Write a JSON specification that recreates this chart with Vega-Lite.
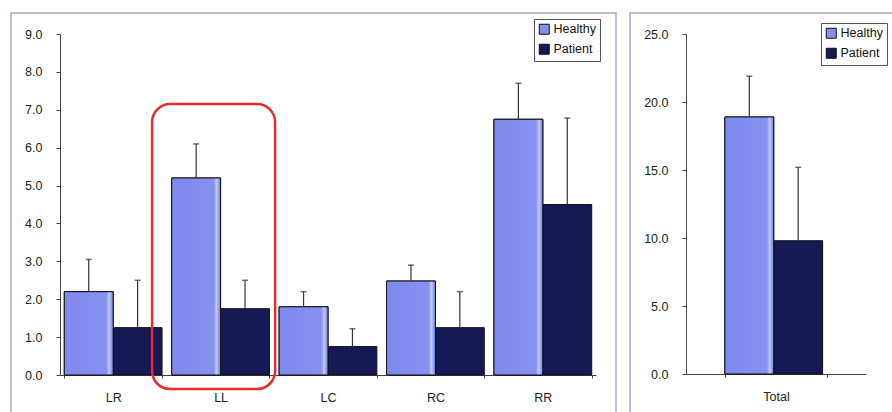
{
  "$schema": "https://vega.github.io/schema/vega-lite/v6.json",
  "padding": {"left": 10, "top": 12, "right": 0, "bottom": 0},
  "background": "white",
  "spacing": 12,
  "datasets": {
    "regions": [
      {"region": "LR", "group": "Healthy", "mean": 2.2, "upper": 3.05},
      {"region": "LR", "group": "Patient", "mean": 1.25, "upper": 2.5},
      {"region": "LL", "group": "Healthy", "mean": 5.2, "upper": 6.1},
      {"region": "LL", "group": "Patient", "mean": 1.75, "upper": 2.5},
      {"region": "LC", "group": "Healthy", "mean": 1.8, "upper": 2.2},
      {"region": "LC", "group": "Patient", "mean": 0.75, "upper": 1.22},
      {"region": "RC", "group": "Healthy", "mean": 2.48, "upper": 2.9},
      {"region": "RC", "group": "Patient", "mean": 1.25, "upper": 2.2},
      {"region": "RR", "group": "Healthy", "mean": 6.75, "upper": 7.7},
      {"region": "RR", "group": "Patient", "mean": 4.5, "upper": 6.78}
    ],
    "highlight": [
      {"region": "LL", "top": 7.15, "bottom": -0.37}
    ],
    "total": [
      {"region": "Total", "group": "Healthy", "mean": 18.9, "upper": 21.9},
      {"region": "Total", "group": "Patient", "mean": 9.8, "upper": 15.2}
    ]
  },
  "config": {
    "font": "Liberation Sans",
    "view": {"stroke": "#a9abc9", "strokeWidth": 1.5},
    "axis": {
      "grid": false,
      "title": null,
      "domainColor": "#444",
      "tickColor": "#444",
      "labelColor": "#222",
      "labelFontSize": 12.5,
      "labelFont": "Liberation Sans"
    },
    "legend": {
      "orient": "none",
      "title": null,
      "strokeColor": "#555",
      "padding": 4,
      "rowPadding": 5,
      "symbolType": "square",
      "symbolSize": 100,
      "symbolStrokeColor": "#111",
      "symbolStrokeWidth": 1,
      "labelFontSize": 12.5,
      "labelColor": "#111",
      "labelOffset": 3
    }
  },
  "resolve": {"legend": {"color": "independent"}},
  "hconcat": [
    {
      "width": 605,
      "height": 420,
      "layer": [
        {
          "data": {"name": "regions"},
          "mark": {"type": "bar", "stroke": "#111", "strokeWidth": 1},
          "encoding": {
            "x": {
              "field": "region",
              "type": "nominal",
              "sort": ["LR", "LL", "LC", "RC", "RR"],
              "scale": {"range": [49, 585], "paddingInner": 0.09, "paddingOuter": 0.04},
              "axis": {"offset": -58, "labelAngle": 0, "labelPadding": 13, "tickBand": "extent", "tickSize": 3}
            },
            "xOffset": {"field": "group", "type": "nominal", "sort": ["Healthy", "Patient"]},
            "y": {
              "field": "mean",
              "type": "quantitative",
              "scale": {"domain": [0, 9], "range": [362, 21], "nice": false},
              "axis": {"offset": -49, "values": [0, 1, 2, 3, 4, 5, 6, 7, 8, 9], "format": ".1f", "tickSize": 4, "labelPadding": 14}
            },
            "color": {
              "field": "group",
              "type": "nominal",
              "scale": {"domain": ["Healthy", "Patient"], "range": ["#8290ee", "#151a55"]},
              "legend": {"legendX": 523, "legendY": 6}
            }
          }
        },
        {
          "data": {"name": "regions"},
          "transform": [{"filter": "datum.group === 'Healthy'"}],
          "mark": {
            "type": "bar",
            "stroke": "#111",
            "strokeWidth": 1,
            "fill": {
              "gradient": "linear", "x1": 0, "x2": 1, "y1": 0, "y2": 0,
              "stops": [
                {"offset": 0, "color": "#7d8aed"},
                {"offset": 0.86, "color": "#8592f0"},
                {"offset": 0.92, "color": "#c4cbf7"},
                {"offset": 0.97, "color": "#8795f0"},
                {"offset": 1, "color": "#7d8aed"}
              ]
            }
          },
          "encoding": {
            "x": {"field": "region", "type": "nominal", "sort": ["LR", "LL", "LC", "RC", "RR"]},
            "xOffset": {"field": "group", "type": "nominal", "sort": ["Healthy", "Patient"], "scale": {"domain": ["Healthy", "Patient"]}},
            "y": {"field": "mean", "type": "quantitative"}
          }
        },
        {
          "data": {"name": "regions"},
          "mark": {"type": "rule", "color": "#333", "strokeWidth": 1.2},
          "encoding": {
            "x": {"field": "region", "type": "nominal", "sort": ["LR", "LL", "LC", "RC", "RR"]},
            "xOffset": {"field": "group", "type": "nominal", "sort": ["Healthy", "Patient"]},
            "y": {"field": "mean", "type": "quantitative"},
            "y2": {"field": "upper"}
          }
        },
        {
          "data": {"name": "regions"},
          "mark": {"type": "tick", "color": "#333", "size": 6, "thickness": 1.5, "orient": "horizontal"},
          "encoding": {
            "x": {"field": "region", "type": "nominal", "sort": ["LR", "LL", "LC", "RC", "RR"]},
            "xOffset": {"field": "group", "type": "nominal", "sort": ["Healthy", "Patient"]},
            "y": {"field": "upper", "type": "quantitative"}
          }
        },
        {
          "data": {"name": "highlight"},
          "mark": {"type": "bar", "width": 123, "xOffset": -7, "fillOpacity": 0, "stroke": "#ea2a2c", "strokeWidth": 2.5, "cornerRadius": 18},
          "encoding": {
            "x": {"field": "region", "type": "nominal", "sort": ["LR", "LL", "LC", "RC", "RR"]},
            "y": {"field": "top", "type": "quantitative"},
            "y2": {"field": "bottom"}
          }
        }
      ]
    },
    {
      "width": 270,
      "height": 420,
      "layer": [
        {
          "data": {"name": "total"},
          "mark": {"type": "bar", "stroke": "#111", "strokeWidth": 1},
          "encoding": {
            "x": {
              "field": "region",
              "type": "nominal",
              "scale": {"range": [56, 236], "paddingInner": 0, "paddingOuter": 0.38},
              "axis": {"offset": -59, "labelAngle": 0, "labelPadding": 13, "tickBand": "extent", "tickSize": 3}
            },
            "xOffset": {"field": "group", "type": "nominal", "sort": ["Healthy", "Patient"]},
            "y": {
              "field": "mean",
              "type": "quantitative",
              "scale": {"domain": [0, 25], "range": [361, 21], "nice": false},
              "axis": {"offset": -56, "values": [0, 5, 10, 15, 20, 25], "format": ".1f", "tickSize": 4, "labelPadding": 14}
            },
            "color": {
              "field": "group",
              "type": "nominal",
              "scale": {"domain": ["Healthy", "Patient"], "range": ["#8290ee", "#151a55"]},
              "legend": {"legendX": 191, "legendY": 10}
            }
          }
        },
        {
          "data": {"name": "total"},
          "transform": [{"filter": "datum.group === 'Healthy'"}],
          "mark": {
            "type": "bar",
            "stroke": "#111",
            "strokeWidth": 1,
            "fill": {
              "gradient": "linear", "x1": 0, "x2": 1, "y1": 0, "y2": 0,
              "stops": [
                {"offset": 0, "color": "#7d8aed"},
                {"offset": 0.86, "color": "#8592f0"},
                {"offset": 0.92, "color": "#c4cbf7"},
                {"offset": 0.97, "color": "#8795f0"},
                {"offset": 1, "color": "#7d8aed"}
              ]
            }
          },
          "encoding": {
            "x": {"field": "region", "type": "nominal"},
            "xOffset": {"field": "group", "type": "nominal", "sort": ["Healthy", "Patient"], "scale": {"domain": ["Healthy", "Patient"]}},
            "y": {"field": "mean", "type": "quantitative"}
          }
        },
        {
          "data": {"name": "total"},
          "mark": {"type": "rule", "color": "#333", "strokeWidth": 1.2},
          "encoding": {
            "x": {"field": "region", "type": "nominal"},
            "xOffset": {"field": "group", "type": "nominal", "sort": ["Healthy", "Patient"]},
            "y": {"field": "mean", "type": "quantitative"},
            "y2": {"field": "upper"}
          }
        },
        {
          "data": {"name": "total"},
          "mark": {"type": "tick", "color": "#333", "size": 6, "thickness": 1.5, "orient": "horizontal"},
          "encoding": {
            "x": {"field": "region", "type": "nominal"},
            "xOffset": {"field": "group", "type": "nominal", "sort": ["Healthy", "Patient"]},
            "y": {"field": "upper", "type": "quantitative"}
          }
        }
      ]
    }
  ]
}
